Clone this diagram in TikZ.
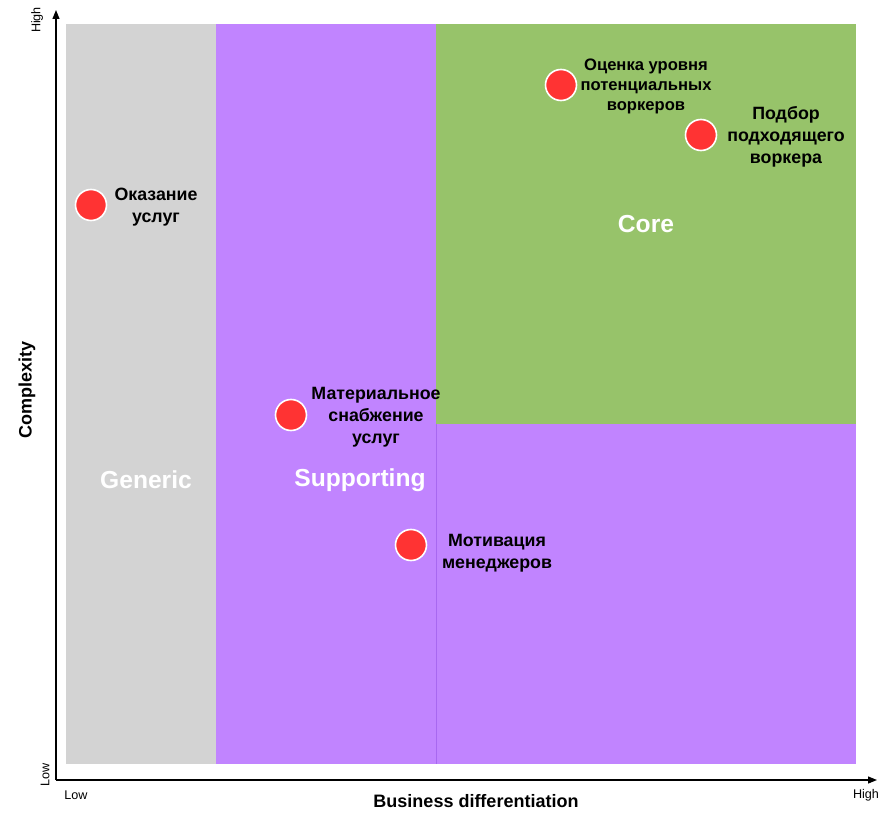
\documentclass[tikz,border=0pt]{standalone}
\usepackage{fontspec}
\setmainfont{Liberation Sans}
\usetikzlibrary{arrows.meta}
\definecolor{greyzone}{HTML}{D3D3D3}
\definecolor{purplezone}{HTML}{C184FF}
\definecolor{purpleedge}{HTML}{A868F0}
\definecolor{greenzone}{HTML}{97C36A}
\definecolor{dotred}{HTML}{FF3333}
\tikzset{
  dot/.style={circle, fill=dotred, draw=white, line width=1.6pt, minimum size=31pt, inner sep=0pt},
  lbl/.style={font=\fontsize{17.8}{21.8}\selectfont\bfseries, align=center, text=black, inner sep=0pt},
  lblsm/.style={font=\fontsize{16.6}{20}\selectfont\bfseries, align=center, text=black, inner sep=0pt},
  zonelbl/.style={font=\fontsize{24.6}{28}\selectfont\bfseries, text=white, inner sep=0pt},
  axis/.style={line width=1.2pt, -{Triangle[length=9pt,width=7pt]}},
  ticklbl/.style={font=\fontsize{12.6}{14}\selectfont, inner sep=0pt},
  axislbl/.style={font=\fontsize{18}{21}\selectfont\bfseries, inner sep=0pt}
}
\begin{document}
\begin{tikzpicture}[x=1pt,y=-1pt]
\useasboundingbox (0,0) rectangle (886,826);
\fill[white] (0,0) rectangle (886,826);
% zones
\fill[greyzone] (66,24) rectangle (216,764);
\fill[purplezone] (216,24) rectangle (436,764);
\fill[purplezone] (436,424) rectangle (856,764);
\fill[greenzone] (436,24) rectangle (856,424);
\draw[purpleedge, line width=0.8pt] (436,424) -- (436,764);
% axes
\coordinate (o) at (56,780);
\coordinate (ytop) at (56,10);
\coordinate (xend) at (877,780);
\draw[axis] (o) -- (ytop);
\draw[axis] (o) -- (xend);
% axis labels
\node[ticklbl, rotate=90] (yhigh) at (37,20) {High};
\node[ticklbl, rotate=90] (ylow) at (45,775) {Low};
\node[ticklbl] (xlow) at (76,795) {Low};
\node[ticklbl] (xhigh) at (866,795) {High};
\node[axislbl, rotate=90] (ylabel) at (27,390) {Complexity};
\node[axislbl] (xlabel) at (476,801) {Business differentiation};
% zone labels
\node[zonelbl] (generic) at (146,480) {Generic};
\node[zonelbl] (supporting) at (360,480) {Supporting};
\node[zonelbl] (core) at (646,224) {Core};
% points
\node[dot] (p1) at (91,205) {};
\node[lbl] (t1) at (156,207.5) {Оказание\\услуг};
\node[dot] (p2) at (291,415) {};
\node[lbl] (t2) at (376,417) {Материальное\\снабжение\\услуг};
\node[dot] (p3) at (411,545) {};
\node[lbl] (t3) at (497,553) {Мотивация\\менеджеров};
\node[dot] (p4) at (561,85) {};
\node[lblsm] (t4) at (646,86.5) {Оценка уровня\\потенциальных\\воркеров};
\node[dot] (p5) at (701,135) {};
\node[lbl] (t5) at (786,137) {Подбор\\подходящего\\воркера};
\end{tikzpicture}
\end{document}
